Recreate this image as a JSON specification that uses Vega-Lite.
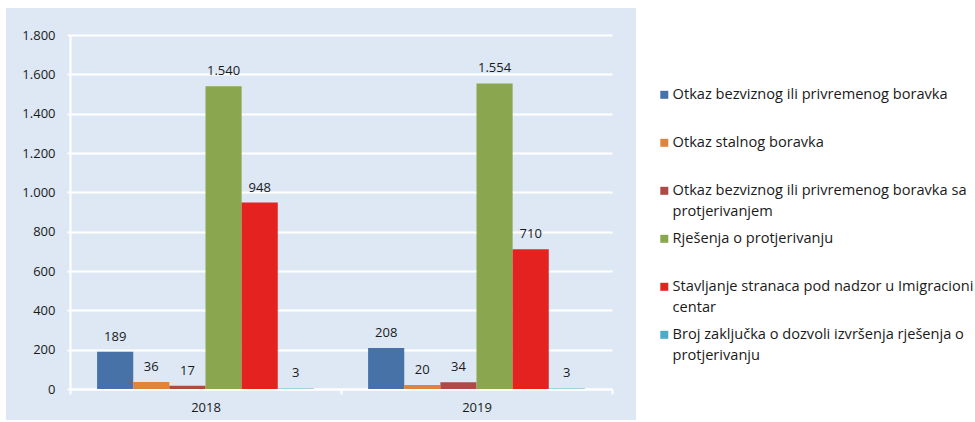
{
  "$schema": "https://vega.github.io/schema/vega-lite/v6.json",
  "width": 630,
  "height": 412,
  "autosize": {"type": "none"},
  "padding": {"left": 6, "top": 8, "right": 339, "bottom": 2},
  "background": "#ffffff",
  "config": {
    "font": "Open Sans",
    "view": {"fill": "#dde8f4", "stroke": null},
    "locale": {"number": {"decimal": ",", "thousands": ".", "grouping": [3], "currency": ["", ""]}},
    "style": {"guide-label": {"lineHeight": 21}}
  },
  "data": {
    "values": [
      {"year": "2018", "series": "Otkaz bezviznog ili privremenog boravka", "value": 189},
      {"year": "2018", "series": "Otkaz stalnog boravka", "value": 36},
      {"year": "2018", "series": "Otkaz bezviznog ili privremenog boravka sa protjerivanjem", "value": 17},
      {"year": "2018", "series": "Rješenja o protjerivanju", "value": 1540},
      {"year": "2018", "series": "Stavljanje stranaca pod nadzor u Imigracioni centar", "value": 948},
      {"year": "2018", "series": "Broj zaključka o dozvoli izvršenja rješenja o protjerivanju", "value": 3},
      {"year": "2019", "series": "Otkaz bezviznog ili privremenog boravka", "value": 208},
      {"year": "2019", "series": "Otkaz stalnog boravka", "value": 20},
      {"year": "2019", "series": "Otkaz bezviznog ili privremenog boravka sa protjerivanjem", "value": 34},
      {"year": "2019", "series": "Rješenja o protjerivanju", "value": 1554},
      {"year": "2019", "series": "Stavljanje stranaca pod nadzor u Imigracioni centar", "value": 710},
      {"year": "2019", "series": "Broj zaključka o dozvoli izvršenja rješenja o protjerivanju", "value": 3}
    ]
  },
  "encoding": {
    "x": {
      "field": "year", "type": "nominal",
      "scale": {"range": [64, 606], "paddingInner": 0, "paddingOuter": 0},
      "axis": {
        "title": null, "offset": -31, "labelAngle": 0, "tickBand": "extent",
        "domainColor": "#ffffff", "domainWidth": 2, "tickColor": "#ffffff", "tickWidth": 2, "tickSize": 5,
        "labelPadding": 7, "labelFontSize": 13, "labelColor": "#1a1a1a", "grid": false
      }
    },
    "xOffset": {
      "field": "series", "type": "nominal",
      "sort": [
        "Otkaz bezviznog ili privremenog boravka",
        "Otkaz stalnog boravka",
        "Otkaz bezviznog ili privremenog boravka sa protjerivanjem",
        "Rješenja o protjerivanju",
        "Stavljanje stranaca pod nadzor u Imigracioni centar",
        "Broj zaključka o dozvoli izvršenja rješenja o protjerivanju"
      ],
      "scale": {"paddingInner": 0, "paddingOuter": 0.75}
    },
    "y": {
      "field": "value", "type": "quantitative",
      "scale": {"domain": [0, 1800], "range": [381, 27], "nice": false, "zero": true},
      "axis": {
        "title": null, "offset": -64, "values": [0, 200, 400, 600, 800, 1000, 1200, 1400, 1600, 1800], "format": ",.0f",
        "domainColor": "#ffffff", "domainWidth": 2, "tickColor": "#ffffff", "tickWidth": 2, "tickSize": 3,
        "gridColor": "#ffffff", "gridWidth": 2, "labelPadding": 12, "labelFontSize": 13, "labelColor": "#1a1a1a"
      }
    }
  },
  "layer": [
    {
      "mark": {"type": "bar"},
      "encoding": {
        "color": {
          "field": "series", "type": "nominal",
          "scale": {
            "domain": [
              "Otkaz bezviznog ili privremenog boravka",
              "Otkaz stalnog boravka",
              "Otkaz bezviznog ili privremenog boravka sa protjerivanjem",
              "Rješenja o protjerivanju",
              "Stavljanje stranaca pod nadzor u Imigracioni centar",
              "Broj zaključka o dozvoli izvršenja rješenja o protjerivanju"
            ],
            "range": ["#4672a8", "#e0843c", "#b04946", "#8aa64f", "#e42320", "#4bacc6"]
          },
          "legend": {
            "title": null, "orient": "none", "legendX": 651, "legendY": 79.5, "padding": 0,
            "symbolType": "square", "symbolSize": 64, "symbolStrokeWidth": 0,
            "labelFontSize": 14.6, "labelColor": "#1a1a1a", "labelLimit": 400, "labelOffset": 1, "rowPadding": 12,
            "labelExpr": "datum.label == 'Otkaz bezviznog ili privremenog boravka sa protjerivanjem' ? ['Otkaz bezviznog ili privremenog boravka sa', 'protjerivanjem'] : datum.label == 'Stavljanje stranaca pod nadzor u Imigracioni centar' ? ['Stavljanje stranaca pod nadzor u Imigracioni', 'centar'] : datum.label == 'Broj zaključka o dozvoli izvršenja rješenja o protjerivanju' ? ['Broj zaključka o dozvoli izvršenja rješenja o', 'protjerivanju'] : [datum.label, '']"
          }
        }
      }
    },
    {
      "mark": {"type": "text", "baseline": "middle", "dy": -15, "fontSize": 13, "color": "#1a1a1a"},
      "encoding": {
        "text": {"field": "value", "type": "quantitative", "format": ",.0f"}
      }
    }
  ]
}
